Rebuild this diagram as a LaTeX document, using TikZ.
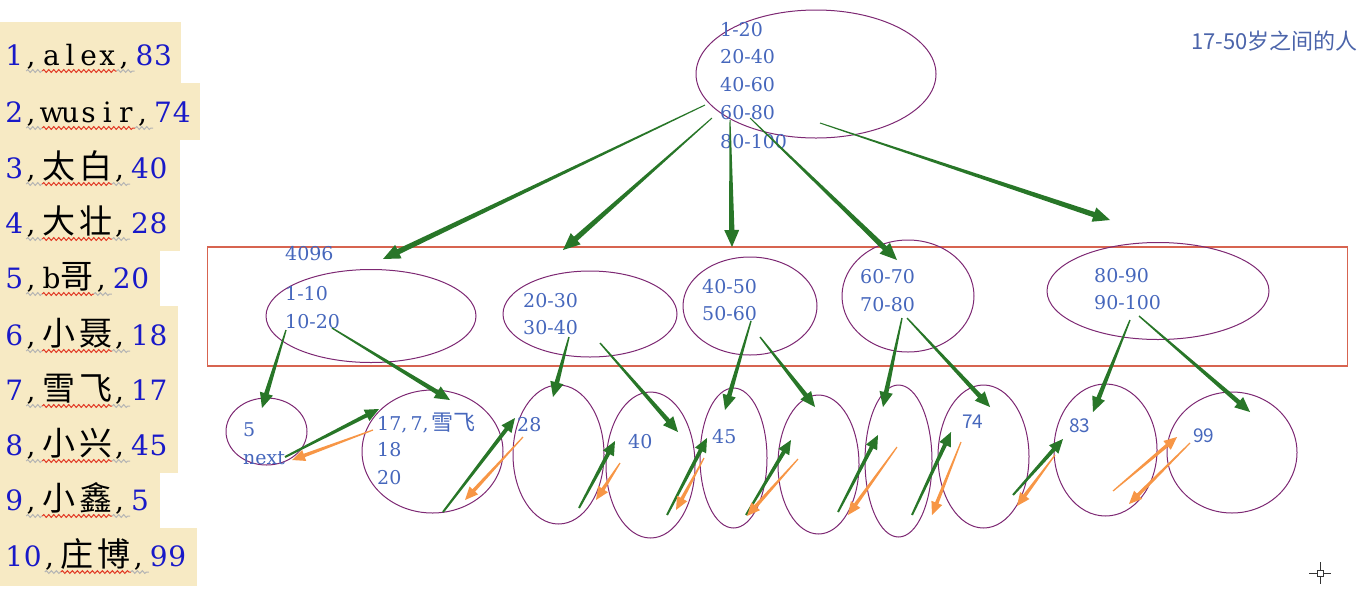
\documentclass[tikz,border=0pt]{standalone}
\usepackage{fontspec}
\usetikzlibrary{shapes.geometric,calc,decorations.pathmorphing}
\newfontfamily\lblfont{DejaVu Serif}
\newfontfamily\cjk{Noto Sans CJK SC}
\newfontfamily\cjklist[LetterSpace=12]{Noto Sans CJK SC}
\newfontfamily\listserif{DejaVu Serif}
\definecolor{bgbeige}{RGB}{247,234,196}
\definecolor{numblue}{RGB}{25,25,200}
\definecolor{lblblue}{RGB}{70,103,188}
\definecolor{noteblue}{RGB}{75,100,170}
\definecolor{ovalc}{RGB}{125,40,115}
\definecolor{rectred}{RGB}{215,100,80}
\definecolor{arrgreen}{RGB}{40,118,40}
\definecolor{arrorange}{RGB}{247,150,70}
\definecolor{wred}{RGB}{225,55,35}
\definecolor{wgrey}{RGB}{180,180,180}
\newcommand\zhl[1]{{\cjklist\fontsize{33}{33}\selectfont #1}}
\newcommand\mc[1]{\makebox[18.6pt]{#1}}
\newcommand\mcm{\makebox[18.6pt][l]{\hspace{3pt},}}
\def\mcs#1{\mcsi#1\relax}
\def\mcsi#1{\ifx#1\relax\else\mc{#1}\expandafter\mcsi\fi}
\newcommand\tarr[7]{%
  \coordinate (tA) at #2;
  \coordinate (tZ) at #3;
  \coordinate (tB) at ($(tZ)!#6!(tA)$);
  \fill[#1] ($(tA)!#7!90:(tZ)$) -- ($(tB)!#4!90:(tZ)$) -- ($(tB)!#5!90:(tZ)$) -- (tZ)
    -- ($(tB)!#5!-90:(tZ)$) -- ($(tB)!#4!-90:(tZ)$) -- ($(tA)!#7!-90:(tZ)$) -- cycle;}
\newcommand\garrT[2]{\tarr{arrgreen}{#1}{#2}{2.7pt}{7.5pt}{17pt}{0.5pt}}
\newcommand\garr[2]{\tarr{arrgreen}{#1}{#2}{2.3pt}{6.8pt}{15pt}{0.7pt}}
\newcommand\garrS[2]{\tarr{arrgreen}{#1}{#2}{2pt}{6.3pt}{14pt}{1pt}}
\newcommand\oarr[2]{\tarr{arrorange}{#1}{#2}{1.8pt}{5.8pt}{13pt}{0.6pt}}
\tikzset{
  lst/.style={inner sep=0pt, outer sep=0pt, anchor=base west, font=\listserif\fontsize{28}{28}\selectfont},
  lbl/.style={inner sep=0pt, anchor=west, text=lblblue, font=\lblfont\fontsize{19}{19}\selectfont},
  lblsans/.style={inner sep=0pt, anchor=west, text=lblblue, font=\cjk\fontsize{19}{19}\selectfont},
  oval/.style={ellipse, draw=ovalc, line width=1pt, inner sep=0pt},
  wavyred/.style={draw=wred, line width=1pt, decorate, decoration={snake, amplitude=1.4pt, segment length=5pt}},
  wavygrey/.style={draw=wgrey, line width=1pt, decorate, decoration={snake, amplitude=1.4pt, segment length=5pt}},
}
\newcommand\lrow[5]{%
  \node[lst] (#1n) at (5,#2) {\textcolor{numblue}{\mcs{#3}}\mcm};
  \node[lst] (#1m) at (#1n.base east) {#4};
  \node[lst] (#1v) at (#1m.base east) {\mcm\textcolor{numblue}{\mcs{#5}}};
  \draw[wavygrey] ([xshift=-16pt,yshift=-6pt]#1m.base west) -- ([yshift=-6pt]#1m.base west);
  \draw[wavyred] ([yshift=-6pt]#1m.base west) -- ([yshift=-6pt]#1m.base east);
  \draw[wavygrey] ([yshift=-6pt]#1m.base east) -- ([xshift=18pt,yshift=-6pt]#1m.base east);}
\begin{document}
\begin{tikzpicture}[x=1pt,y=-1pt]
\useasboundingbox (0,0) rectangle (1365,598);
% list background
\fill[bgbeige] (0,22) rectangle (181,83);
\fill[bgbeige] (0,83) rectangle (200,140);
\fill[bgbeige] (0,140) rectangle (180,196);
\fill[bgbeige] (0,196) rectangle (180,251);
\fill[bgbeige] (0,251) rectangle (160,306);
\fill[bgbeige] (0,306) rectangle (178,363);
\fill[bgbeige] (0,363) rectangle (178,418);
\fill[bgbeige] (0,418) rectangle (178,473);
\fill[bgbeige] (0,473) rectangle (160,528);
\fill[bgbeige] (0,528) rectangle (197,586);
% list rows
\lrow{ra}{65}{1}{\mcs{alex}}{83}
\lrow{rb}{122}{2}{\mcs{wusir}}{74}
\lrow{rc}{178}{3}{\zhl{太白}}{40}
\lrow{rd}{233}{4}{\zhl{大壮}}{28}
\lrow{re}{288}{5}{\mc{b}\zhl{哥}}{20}
\lrow{rf}{345}{6}{\zhl{小聂}}{18}
\lrow{rg}{400}{7}{\zhl{雪飞}}{17}
\lrow{rh}{455}{8}{\zhl{小兴}}{45}
\lrow{ri}{510}{9}{\zhl{小鑫}}{5}
\lrow{rj}{566}{10}{\zhl{庄博}}{99}
% note
\node[inner sep=0pt, anchor=west, text=noteblue, font=\cjk\fontsize{22}{22}\selectfont] (note) at (1191,41) {17-50岁之间的人};
% page rectangle
\node[draw=rectred, line width=1.1pt, inner sep=0pt, minimum width=1140pt, minimum height=119pt] (page) at (777.5,306.5) {};
% ellipses
\node[oval, minimum width=240pt, minimum height=128pt] (top) at (816,74) {};
\node[oval, minimum width=210pt, minimum height=93pt] (e1) at (371,316) {};
\node[oval, minimum width=174pt, minimum height=86pt] (e2) at (590,314) {};
\node[oval, minimum width=134pt, minimum height=98pt] (e3) at (750,306) {};
\node[oval, minimum width=132pt, minimum height=112pt] (e4) at (908,296) {};
\node[oval, minimum width=222pt, minimum height=97pt] (e5) at (1158,291) {};
\node[oval, minimum width=81pt, minimum height=67pt] (l1) at (266.5,431.5) {};
\node[oval, minimum width=141pt, minimum height=123pt] (l2) at (432.5,451.5) {};
\node[oval, minimum width=91pt, minimum height=139pt] (l3) at (558.5,454.5) {};
\node[oval, minimum width=89pt, minimum height=146pt] (l4) at (650.5,465) {};
\node[oval, minimum width=67pt, minimum height=140pt] (l5) at (733.5,458) {};
\node[oval, minimum width=81pt, minimum height=139pt] (l6) at (818.5,464.5) {};
\node[oval, minimum width=67pt, minimum height=152pt] (l7) at (898.5,461) {};
\node[oval, minimum width=91pt, minimum height=143pt] (l8) at (983.5,456.5) {};
\node[oval, minimum width=103pt, minimum height=132pt] (l9) at (1105.5,450) {};
\node[oval, minimum width=130pt, minimum height=121pt] (l10) at (1232,452.5) {};
% labels
\node[lbl] (t1) at (720,30) {1-20};
\node[lbl] (t2) at (720,57) {20-40};
\node[lbl] (t3) at (720,85) {40-60};
\node[lbl] (t4) at (720,113) {60-80};
\node[lbl] (t5) at (720,142) {80-100};
\node[lbl] (k4096) at (285,254) {4096};
\node[lbl] (a1) at (285,294) {1-10};
\node[lbl] (a2) at (285,322) {10-20};
\node[lbl] (b1) at (523,301) {20-30};
\node[lbl] (b2) at (523,328) {30-40};
\node[lbl] (c1) at (702,287) {40-50};
\node[lbl] (c2) at (702,314) {50-60};
\node[lbl] (d1) at (860,277) {60-70};
\node[lbl] (d2) at (860,305) {70-80};
\node[lbl] (f1) at (1094,276) {80-90};
\node[lbl] (f2) at (1094,303) {90-100};
\node[lbl] (v5) at (243,430) {5};
\node[lbl] (vnext) at (243,458) {next};
\node[lbl] (v17) at (377,423) {17,\,7,\,{\cjk\fontsize{22}{22}\selectfont 雪飞}};
\node[lbl] (v18) at (377,450) {18};
\node[lbl] (v20) at (377,478) {20};
\node[lbl] (v28) at (517,425) {28};
\node[lbl] (v40) at (628,442) {40};
\node[lbl] (v45) at (712,437) {45};
\node[lblsans] (v74) at (962,422) {74};
\node[lblsans] (v83) at (1069,426) {83};
\node[lblsans] (v99) at (1193,436) {99};
% top arrows
\garrT{($(top)+(-111,31)$)}{($(e1)+(12,-57)$)}
\garrT{($(top)+(-104,44)$)}{($(e2)+(-27,-64)$)}
\garrT{($(top)+(-86,46)$)}{($(e3)+(-18,-59)$)}
\garrT{($(top)+(-66,44)$)}{($(e4)+(-11,-36)$)}
\garrT{($(top)+(4,49)$)}{($(e5)+(-48,-71)$)}
% level 2 to leaves
\garr{($(e1)+(-85,14)$)}{($(l1)+(-4.5,-23.5)$)}
\garr{($(e1)+(-39,12)$)}{($(l2)+(17.5,-51.5)$)}
\garr{($(e2)+(-21,23)$)}{($(l3)+(-5.5,-57.5)$)}
\garr{($(e2)+(10,29)$)}{($(l4)+(27.5,-33)$)}
\garr{($(e3)+(1,15)$)}{($(l5)+(-8.5,-48)$)}
\garr{($(e3)+(10,31)$)}{($(l6)+(-3.5,-57.5)$)}
\garr{($(e4)+(-6,22)$)}{($(l7)+(-15.5,-54)$)}
\garr{($(e4)+(-1,22)$)}{($(l8)+(6.5,-49.5)$)}
\garr{($(e5)+(-28,29)$)}{($(l9)+(-12.5,-38)$)}
\garr{($(e5)+(-19,25)$)}{($(l10)+(18,-40.5)$)}
% leaf links
\garrS{($(l1)+(18.5,25.5)$)}{($(l2)+(-53.5,-42.5)$)}
\oarr{($(l2)+(-59.5,-21.5)$)}{($(l1)+(25.5,28.5)$)}
\garrS{($(l2)+(10.5,60.5)$)}{($(l3)+(-43.5,-36.5)$)}
\oarr{($(l3)+(-35.5,-17.5)$)}{($(l2)+(32.5,48.5)$)}
\garrS{($(l3)+(20.5,53.5)$)}{($(l4)+(-35.5,-24)$)}
\oarr{($(l4)+(-30.5,-2)$)}{($(l3)+(37.5,45.5)$)}
\garrS{($(l4)+(16.5,50)$)}{($(l5)+(-26.5,-20)$)}
\oarr{($(l5)+(-29.5,0)$)}{($(l4)+(25.5,45)$)}
\garrS{($(l5)+(12.5,57)$)}{($(l6)+(-27.5,-24.5)$)}
\oarr{($(l6)+(-20.5,-5.5)$)}{($(l5)+(13.5,58)$)}
\garrS{($(l6)+(19.5,47.5)$)}{($(l7)+(-20.5,-26)$)}
\oarr{($(l7)+(-1.5,-14)$)}{($(l6)+(29.5,50.5)$)}
\garrS{($(l7)+(13.5,54)$)}{($(l8)+(-32.5,-24.5)$)}
\oarr{($(l8)+(-22.5,-14.5)$)}{($(l7)+(33.5,54)$)}
\garrS{($(l8)+(29.5,38.5)$)}{($(l9)+(-42.5,-11)$)}
\oarr{($(l9)+(-50.5,5)$)}{($(l8)+(33.5,49.5)$)}
\oarr{($(l9)+(7.5,41)$)}{($(l10)+(-55,-15.5)$)}
\oarr{($(l10)+(-42,-9.5)$)}{($(l9)+(23.5,54)$)}
% cursor
\node[draw=black!80, line width=0.8pt, minimum size=6pt, inner sep=0pt] (cur) at (1320,573) {};
\draw[black!80, line width=0.8pt] (cur.west) -- ++(-8,0);
\draw[black!80, line width=0.8pt] (cur.east) -- ++(8,0);
\draw[black!80, line width=0.8pt] (cur.north) -- ++(0,-8);
\draw[black!80, line width=0.8pt] (cur.south) -- ++(0,8);
\end{tikzpicture}
\end{document}
